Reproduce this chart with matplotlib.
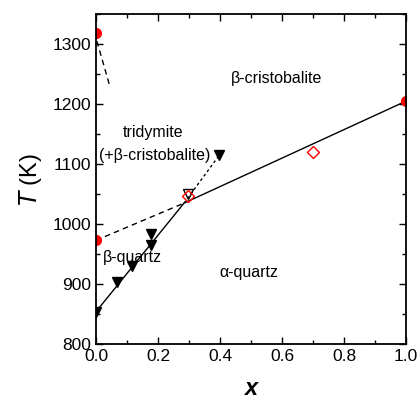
import matplotlib
matplotlib.use('Agg')
import matplotlib.pyplot as plt
from matplotlib.ticker import MultipleLocator

plt.rcParams['font.family'] = ['Liberation Sans', 'DejaVu Sans']

# phase boundary points
solid_x = [0.0, 0.284, 1.0]
solid_T = [854, 1035, 1205]
dashed_x = [0.0, 0.284]
dashed_T = [973, 1035]
dotted_x = [0.284, 0.398]
dotted_T = [1035, 1115]
short_x = [0.003, 0.043]
short_T = [1305, 1233]

# measured points
red_circ_x = [0.0, 0.0, 1.0]
red_circ_T = [1318, 973, 1205]
red_diam_x = [0.298, 0.699]
red_diam_T = [1047, 1120]
tri_x = [0.0, 0.069, 0.115, 0.177, 0.177, 0.398]
tri_T = [854, 904, 930, 965, 984, 1115]
open_tri_x = [0.298]
open_tri_T = [1051]

fig = plt.figure(figsize=(4.19, 4.03), dpi=100)
ax = fig.add_axes([0.229, 0.146, 0.740, 0.819])

ax.plot(solid_x, solid_T, color='black', lw=1)
ax.plot(dashed_x, dashed_T, color='black', lw=1, ls=(0, (4, 3)))
ax.plot(dotted_x, dotted_T, color='black', lw=1, ls=(0, (2, 2)))
ax.plot(short_x, short_T, color='black', lw=1, ls=(0, (4, 3)))

ax.plot(tri_x, tri_T, 'v', color='black', ms=7, ls='none')
ax.plot(open_tri_x, open_tri_T, 'v', mfc='none', mec='black', ms=7, ls='none')
ax.plot(red_diam_x, red_diam_T, 'D', mfc='none', mec='red', ms=6, ls='none')
ax.plot(red_circ_x, red_circ_T, 'o', color='red', ms=7, ls='none')

fs = 11.5
ax.text(0.584, 1243, 'β-cristobalite', ha='center', va='center', fontsize=fs)
ax.text(0.184, 1152, 'tridymite', ha='center', va='center', fontsize=fs)
ax.text(0.19, 1115, '(+β-cristobalite)', ha='center', va='center', fontsize=fs)
ax.text(0.116, 945, 'β-quartz', ha='center', va='center', fontsize=fs)
ax.text(0.494, 920, 'α-quartz', ha='center', va='center', fontsize=fs)

ax.set_xlim(0, 1)
ax.set_ylim(800, 1350)
ax.xaxis.set_major_locator(MultipleLocator(0.2))
ax.xaxis.set_minor_locator(MultipleLocator(0.1))
ax.yaxis.set_major_locator(MultipleLocator(100))
ax.yaxis.set_minor_locator(MultipleLocator(50))
ax.xaxis.set_major_formatter(plt.FuncFormatter(lambda v, p: f'{v:.1f}'))
ax.tick_params(which='both', direction='in', top=True, right=True, labelsize=12.5)
ax.tick_params(which='major', length=5, width=1)
ax.tick_params(which='minor', length=3, width=1)
for s in ax.spines.values():
    s.set_linewidth(1.3)

ax.set_xlabel('x', fontsize=17, fontweight='bold', style='italic', labelpad=9)
ax.set_ylabel('$\\mathit{T}$ (K)', fontsize=17, labelpad=6)

fig.savefig('out.png', dpi=100)
